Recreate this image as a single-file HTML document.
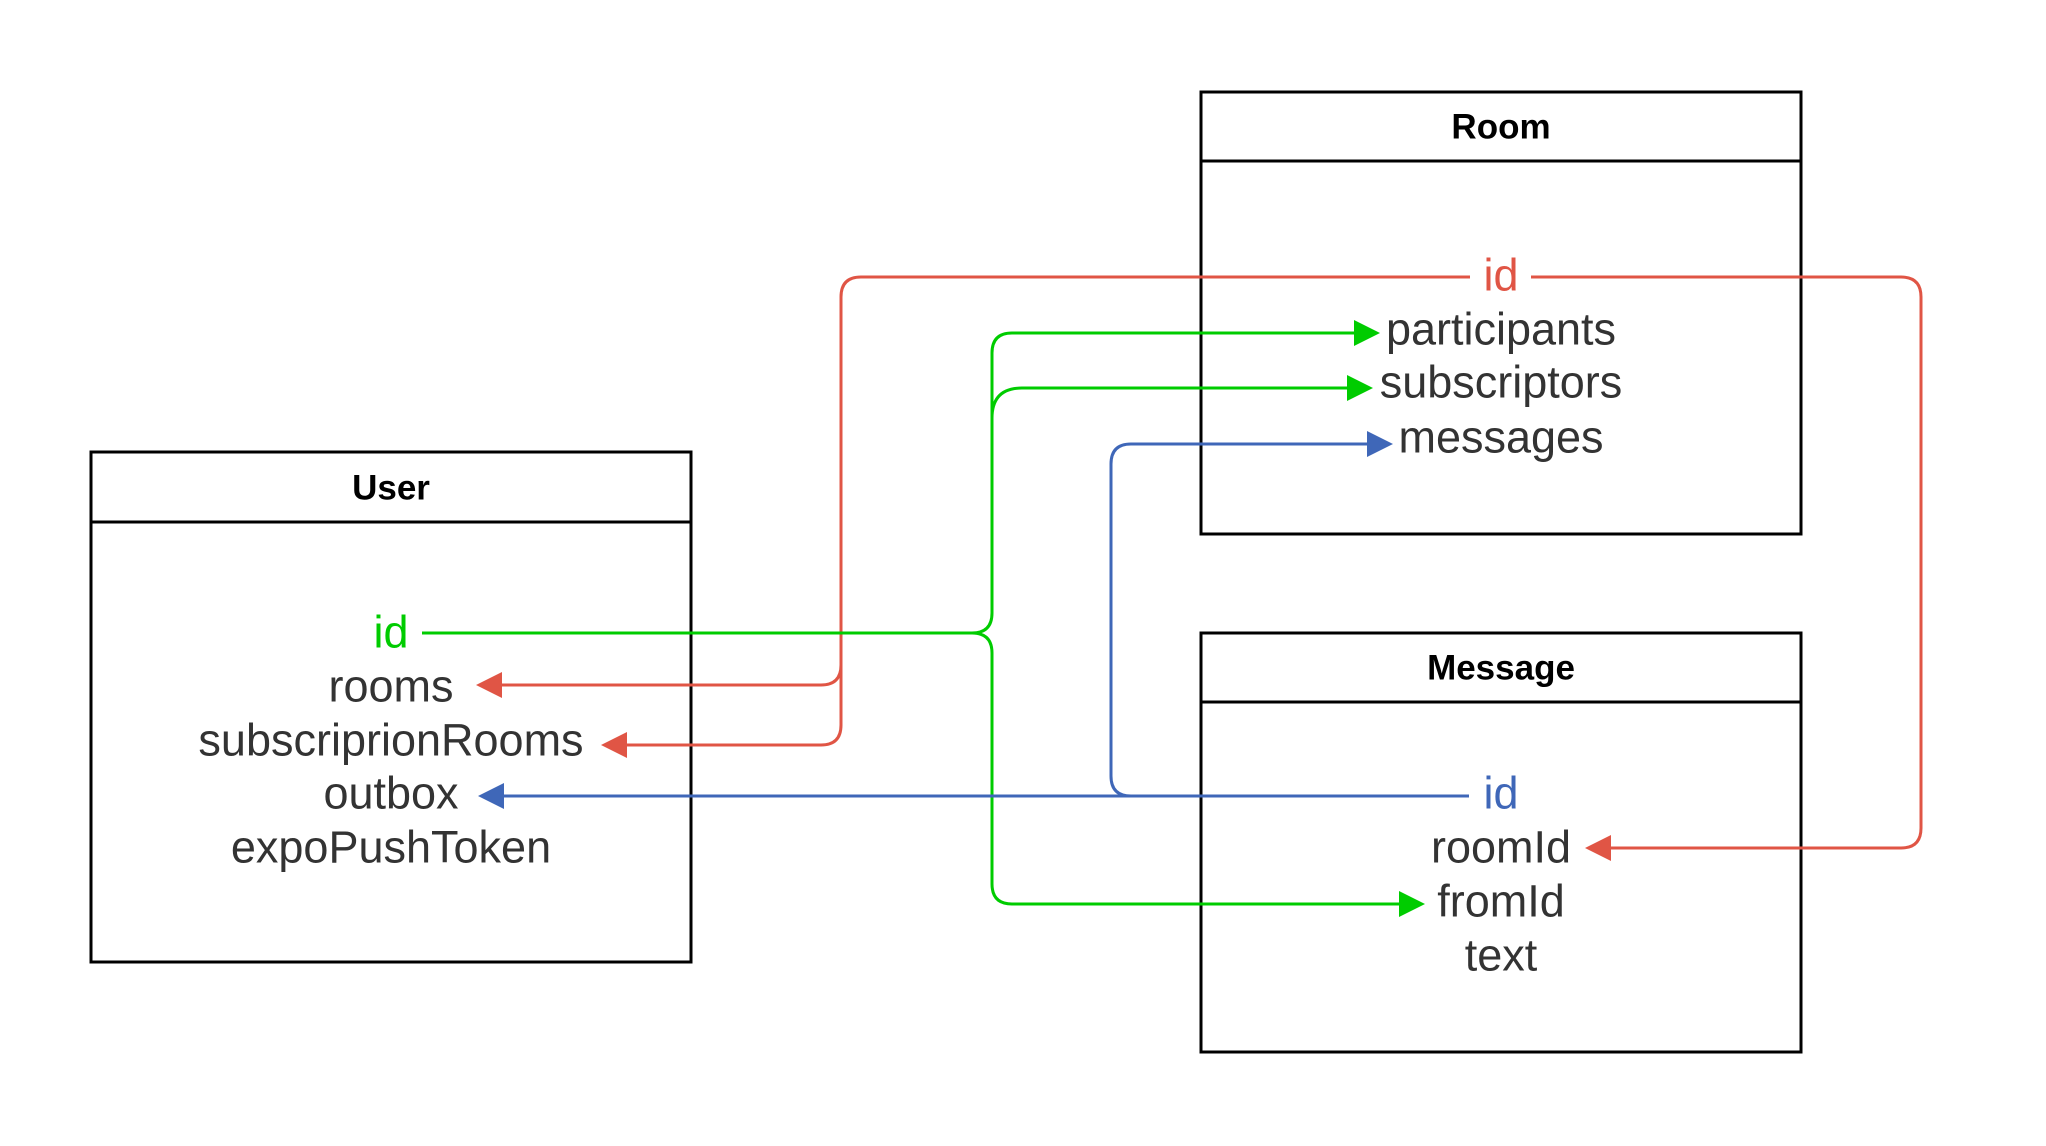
<!DOCTYPE html>
<html><head><meta charset="utf-8"><style>
html,body{margin:0;padding:0;background:#fff;}
svg{display:block;}
text{font-family:"Liberation Sans",Arial,sans-serif;}
</style></head><body>
<svg width="2046" height="1146" viewBox="0 0 2046 1146" xmlns="http://www.w3.org/2000/svg">
<rect width="2046" height="1146" fill="#fff"/>
<g fill="none" stroke="#000" stroke-width="3">
<rect x="91" y="452" width="600" height="510"/>
<line x1="91" y1="522" x2="691" y2="522"/>
<rect x="1201" y="92" width="600" height="442"/>
<line x1="1201" y1="161" x2="1801" y2="161"/>
<rect x="1201" y="633" width="600" height="419"/>
<line x1="1201" y1="702" x2="1801" y2="702"/>
</g>
<g font-weight="bold" font-size="35" text-anchor="middle" fill="#000" dominant-baseline="central">
<text x="391" y="488">User</text>
<text x="1501" y="127">Room</text>
<text x="1501" y="668">Message</text>
</g>
<g fill="none" stroke-width="3">
<path stroke="#e05545" d="M1470,277 H861 Q841,277 841,297 V665 Q841,685 821,685 H502"/>
<path stroke="#e05545" d="M841,665 V725 Q841,745 821,745 H627"/>
<path stroke="#e05545" d="M1531,277 H1901 Q1921,277 1921,297 V828 Q1921,848 1901,848 H1611"/>
<path stroke="#00cc00" d="M422,633 H972 Q992,633 992,613 V353 Q992,333 1012,333 H1354"/>
<path stroke="#00cc00" d="M992,418 Q992,388 1022,388 H1347"/>
<path stroke="#00cc00" d="M972,633 Q992,633 992,653 V884 Q992,904 1012,904 H1399"/>
<path stroke="#3f67b8" d="M1469,796 H504"/>
<path stroke="#3f67b8" d="M1131,796 Q1111,796 1111,776 V464 Q1111,444 1131,444 H1367"/>
</g>
<g>
<polygon fill="#e05545" points="476,685 502,672 502,698"/>
<polygon fill="#e05545" points="601,745 627,732 627,758"/>
<polygon fill="#e05545" points="1585,848 1611,835 1611,861"/>
<polygon fill="#00cc00" points="1380,333 1354,320 1354,346"/>
<polygon fill="#00cc00" points="1373,388 1347,375 1347,401"/>
<polygon fill="#00cc00" points="1425,904 1399,891 1399,917"/>
<polygon fill="#3f67b8" points="478,796 504,783 504,809"/>
<polygon fill="#3f67b8" points="1393,444 1367,431 1367,457"/>
</g>
<g font-size="45" text-anchor="middle" fill="#333" dominant-baseline="central">
<text x="391" y="632" fill="#00cc00">id</text>
<text x="391" y="686">rooms</text>
<text x="391" y="740">subscriprionRooms</text>
<text x="391" y="793">outbox</text>
<text x="391" y="847">expoPushToken</text>
<text x="1501" y="275" fill="#e05545">id</text>
<text x="1501" y="329">participants</text>
<text x="1501" y="382">subscriptors</text>
<text x="1501" y="437">messages</text>
<text x="1501" y="793" fill="#3f67b8">id</text>
<text x="1501" y="847">roomId</text>
<text x="1501" y="901">fromId</text>
<text x="1501" y="955">text</text>
</g>
</svg>
</body></html>
